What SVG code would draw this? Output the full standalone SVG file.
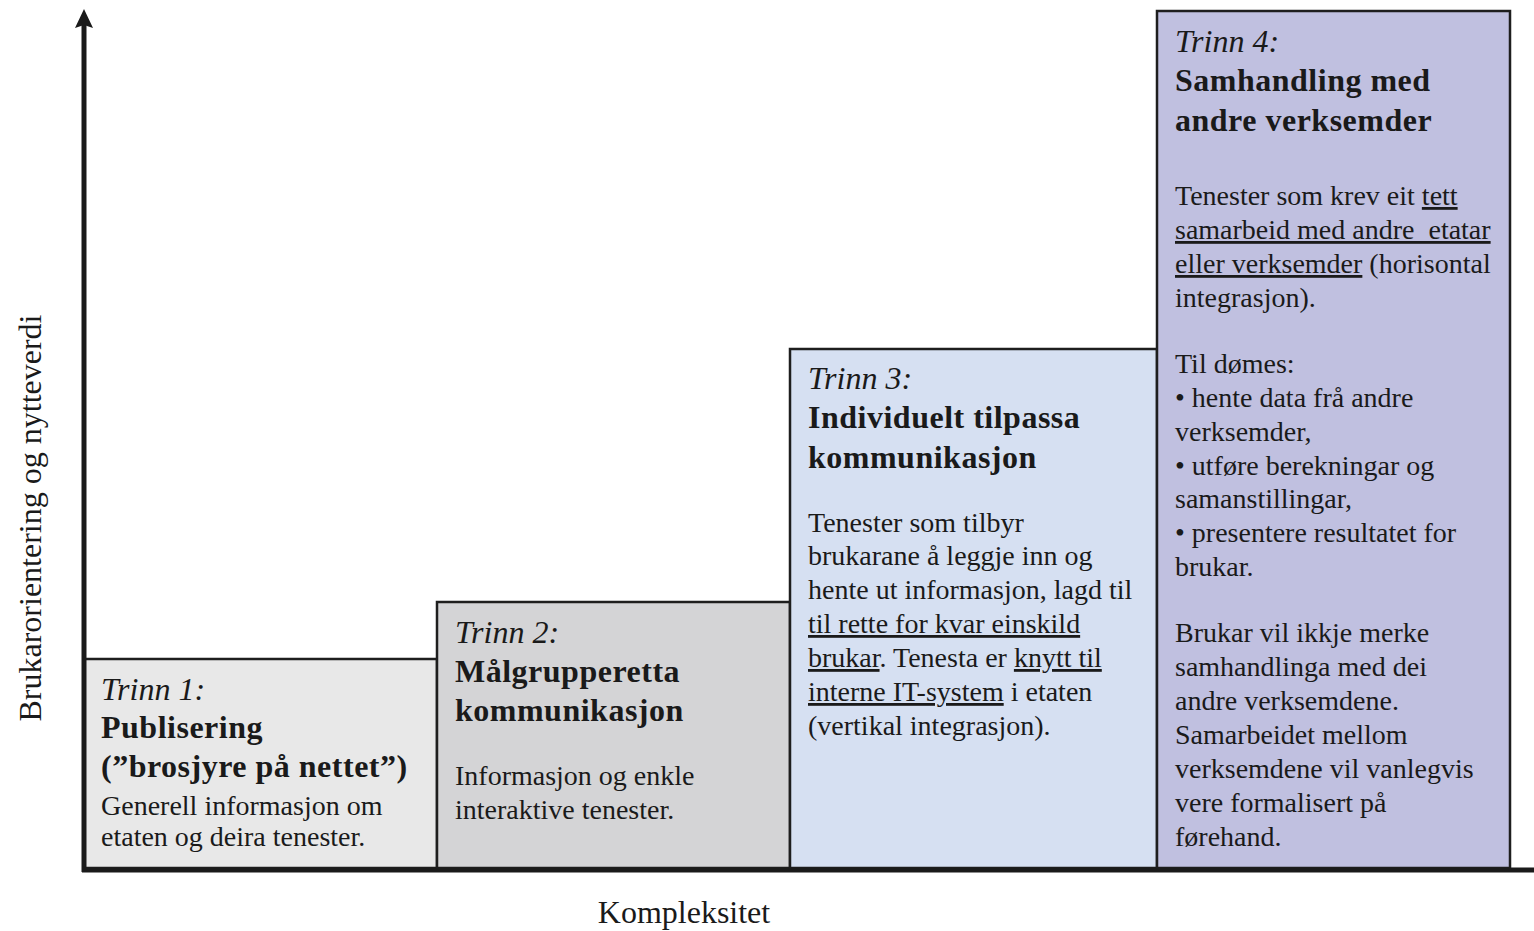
<svg xmlns="http://www.w3.org/2000/svg" width="1534" height="931" viewBox="0 0 1534 931">
<style>
.box{stroke:#1e1e1e;stroke-width:2.5}
text{font-family:"Liberation Serif","Times New Roman",serif;fill:#1a1a1a}
.it{font-style:italic;font-size:32px}
.b{font-weight:bold;font-size:32px;letter-spacing:0.5px}
.t{font-size:28px}
.u{text-decoration:underline}
.ax{font-size:32px}
.pre{white-space:pre}
</style>
<rect width="1534" height="931" fill="#ffffff"/>
<g id="trinn1">
<rect class="box" x="84" y="659" width="353" height="209" fill="#e8e8e8"/>
<text class="it" x="101" y="700">Trinn 1:</text>
<text class="b" x="101" y="738">Publisering</text>
<text class="b" x="101" y="777">(”brosjyre på nettet”)</text>
<text class="t" x="101" y="815">Generell informasjon om</text>
<text class="t" x="101" y="846">etaten og deira tenester.</text>
</g>
<g id="trinn2">
<rect class="box" x="437" y="602" width="353" height="266" fill="#d4d4d6"/>
<text class="it" x="455" y="643">Trinn 2:</text>
<text class="b" x="455" y="682">Målgrupperetta</text>
<text class="b" x="455" y="721">kommunikasjon</text>
<text class="t" x="455" y="785">Informasjon og enkle</text>
<text class="t" x="455" y="819">interaktive tenester.</text>
</g>
<g id="trinn3">
<rect class="box" x="790" y="349" width="367" height="519" fill="#d6e0f2"/>
<text class="it" x="808" y="389">Trinn 3:</text>
<text class="b" x="808" y="428">Individuelt tilpassa</text>
<text class="b" x="808" y="468">kommunikasjon</text>
<text class="t" x="808" y="532">Tenester som tilbyr</text>
<text class="t" x="808" y="565">brukarane å leggje inn og</text>
<text class="t" x="808" y="599">hente ut informasjon, lagd til</text>
<text class="t" x="808" y="633"><tspan class="u">til rette for kvar einskild</tspan></text>
<text class="t" x="808" y="667"><tspan class="u">brukar</tspan>. Tenesta er <tspan class="u">knytt til</tspan></text>
<text class="t" x="808" y="701"><tspan class="u">interne IT-system</tspan> i etaten</text>
<text class="t" x="808" y="735">(vertikal integrasjon).</text>
</g>
<g id="trinn4">
<rect class="box" x="1157" y="11" width="353" height="857" fill="#c0c0e0"/>
<text class="it" x="1175" y="52">Trinn 4:</text>
<text class="b" x="1175" y="91">Samhandling med</text>
<text class="b" x="1175" y="131">andre verksemder</text>
<text class="t" x="1175" y="205">Tenester som krev eit <tspan class="u">tett</tspan></text>
<text class="t pre" x="1175" y="239"><tspan class="u">samarbeid med andre  etatar</tspan></text>
<text class="t" x="1175" y="273"><tspan class="u">eller verksemder</tspan> (horisontal</text>
<text class="t" x="1175" y="307">integrasjon).</text>
<text class="t" x="1175" y="373">Til dømes:</text>
<text class="t" x="1175" y="407">• hente data frå andre</text>
<text class="t" x="1175" y="441">verksemder,</text>
<text class="t" x="1175" y="475">• utføre berekningar og</text>
<text class="t" x="1175" y="508">samanstillingar,</text>
<text class="t" x="1175" y="542">• presentere resultatet for</text>
<text class="t" x="1175" y="576">brukar.</text>
<text class="t" x="1175" y="642">Brukar vil ikkje merke</text>
<text class="t" x="1175" y="676">samhandlinga med dei</text>
<text class="t" x="1175" y="710">andre verksemdene.</text>
<text class="t" x="1175" y="744">Samarbeidet mellom</text>
<text class="t" x="1175" y="778">verksemdene vil vanlegvis</text>
<text class="t" x="1175" y="812">vere formalisert på</text>
<text class="t" x="1175" y="846">førehand.</text>
</g>
<g id="connectors">
<line x1="84" y1="872" x2="84" y2="24" stroke="#1a1a1a" stroke-width="5"/>
<polygon points="84,9 93,28 84,25 75,28" fill="#1a1a1a"/>
<line x1="82" y1="870" x2="1534" y2="870" stroke="#1a1a1a" stroke-width="5"/>
</g>
<g id="labels">
<text class="ax" text-anchor="middle" transform="translate(41,518) rotate(-90)">Brukarorientering og nytteverdi</text>
<text class="ax" x="684" y="923" text-anchor="middle">Kompleksitet</text>
</g>
</svg>
